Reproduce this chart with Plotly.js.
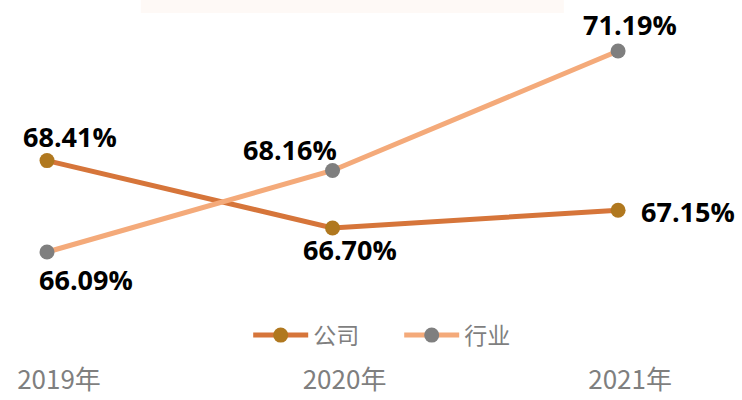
<!DOCTYPE html>
<html>
<head>
<meta charset="utf-8">
<script src="https://cdn.plot.ly/plotly-3.0.1.min.js"></script>
<style>html,body{margin:0;padding:0;background:#fff;}#chart{width:742px;height:400px;}</style>
</head>
<body>
<div id="chart"></div>
<script>
const categories = ['2019年', '2020年', '2021年'];
const companyName = '公司';
const industryName = '行业';
const companyValues = [68.41, 66.70, 67.15];
const industryValues = [66.09, 68.16, 71.19];

// label offsets (pixels) for the data labels
const companyShift = [[23, 24], [17, -22], [70, -1]];
const industryShift = [[39, -27], [-43, 21], [12, 27]];

const xIdx = categories.map((c, i) => i);

const traces = [
  {
    x: xIdx, y: companyValues, name: companyName, type: 'scatter', mode: 'lines+markers',
    line: {color: '#D6753A', width: 5},
    marker: {color: '#B0781F', size: 15},
    hoverinfo: 'skip'
  },
  {
    x: xIdx, y: industryValues, name: industryName, type: 'scatter', mode: 'lines+markers',
    line: {color: '#F4AA7A', width: 5},
    marker: {color: '#7F7F7F', size: 15},
    hoverinfo: 'skip'
  }
];

const labelFont = {family: 'Open Sans, Liberation Sans, sans-serif', size: 27, color: '#000000', weight: 'bold'};
const annotations = [];
companyValues.forEach((v, i) => annotations.push({
  x: xIdx[i], y: v, xref: 'x', yref: 'y', text: '<b>' + v.toFixed(2) + '%</b>', showarrow: false,
  xshift: companyShift[i][0], yshift: companyShift[i][1], font: labelFont, xanchor: 'center', yanchor: 'middle'
}));
industryValues.forEach((v, i) => annotations.push({
  x: xIdx[i], y: v, xref: 'x', yref: 'y', text: '<b>' + v.toFixed(2) + '%</b>', showarrow: false,
  xshift: industryShift[i][0], yshift: industryShift[i][1], font: labelFont, xanchor: 'center', yanchor: 'middle'
}));

const layout = {
  width: 742, height: 400,
  margin: {l: 0, r: 0, t: 0, b: 40},
  paper_bgcolor: '#ffffff', plot_bgcolor: '#ffffff',
  showlegend: true,
  legend: {
    orientation: 'h', x: 0.538, xanchor: 'center', y: 0.069, yanchor: 'middle',
    font: {family: 'Noto Sans CJK SC, sans-serif', size: 23, color: '#7F7F7F'},
    bgcolor: 'rgba(0,0,0,0)', itemwidth: 55, entrywidth: 81
  },
  xaxis: {
    range: [-0.1646, 2.434], tickvals: xIdx, ticktext: categories,
    showgrid: false, zeroline: false, showline: false, ticks: '',
    ticklabelshift: 12, ticklabelstandoff: 2,
    tickfont: {family: 'Noto Sans CJK SC, sans-serif', size: 26, color: '#7F7F7F'},
    fixedrange: true
  },
  yaxis: {
    range: [63.349, 72.486], visible: false, showgrid: false, zeroline: false, fixedrange: true
  },
  shapes: [{
    type: 'rect', xref: 'paper', yref: 'paper', x0: 0.19, x1: 0.76, y0: 0.964, y1: 1,
    fillcolor: 'rgba(245,215,195,0.15)', line: {width: 0}, layer: 'below'
  }],
  annotations: annotations
};

Plotly.newPlot('chart', traces, layout, {displayModeBar: false, staticPlot: true});
</script>
</body>
</html>
